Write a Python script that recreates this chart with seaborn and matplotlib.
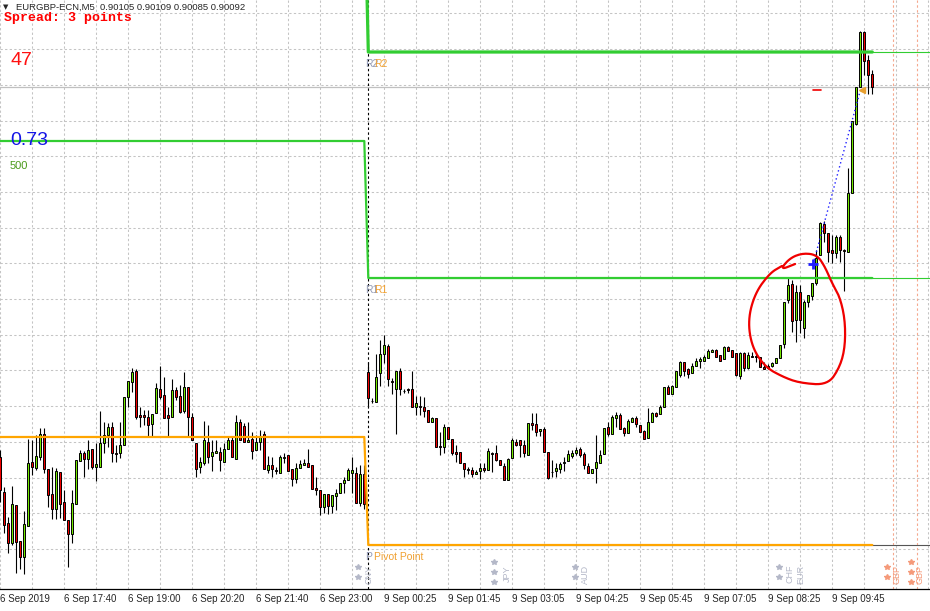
import numpy as np
import pandas as pd
import matplotlib
matplotlib.use("Agg")
import matplotlib.pyplot as plt
import seaborn as sns

# EURGBP-ECN M5 candles, 6 Sep 2019 16:20 .. 9 Sep 2019 10:35
# prices in points (1 point = 0.00001)
opens = [89722, 89687, 89656, 89636, 89674, 89638, 89622, 89653, 89717, 89711,
         89722, 89745, 89710, 89685, 89670, 89707, 89677, 89659, 89645, 89675,
         89718, 89726, 89720, 89730, 89712, 89712, 89736, 89744, 89752, 89726,
         89726, 89734, 89782, 89797, 89808, 89764, 89764, 89762, 89755, 89766,
         89790, 89784, 89764, 89762, 89789, 89783, 89768, 89792, 89762, 89736,
         89712, 89716, 89737, 89723, 89726, 89727, 89717, 89730, 89739, 89720,
         89757, 89753, 89737, 89740, 89729, 89737, 89745, 89709, 89714, 89709,
         89706, 89721, 89724, 89710, 89700, 89711, 89714, 89716, 89714, 89691,
         89689, 89672, 89685, 89673, 89683, 89686, 89696, 89699, 89706, 89706,
         89676, 89705,
         89807, 89778, 89777, 89806, 89825, 89833, 89798, 89790, 89808, 89788,
         89790, 89790, 89772, 89773, 89772, 89769, 89757, 89761, 89733, 89732,
         89752, 89740, 89727, 89727, 89716, 89710, 89709, 89705, 89708, 89711,
         89709, 89726, 89726, 89719, 89713, 89699, 89721, 89737, 89739, 89734,
         89724, 89756, 89755, 89748, 89750, 89727, 89707, 89708, 89710, 89716,
         89718, 89723, 89726, 89730, 89725, 89713, 89706, 89711, 89716, 89725,
         89752, 89745, 89761, 89764, 89751, 89746, 89757, 89761, 89754, 89748,
         89741, 89757, 89766, 89765, 89772, 89792, 89785, 89792, 89804, 89817,
         89810, 89806, 89813, 89818, 89818, 89821, 89827, 89829, 89824, 89820,
         89832, 89829, 89826, 89803, 89826, 89811, 89823, 89823, 89822, 89812,
         89811, 89813, 89816, 89821, 89835, 89879, 89895, 89859, 89887, 89851,
         89877, 89883, 89896, 89924, 89955, 89946, 89929, 89926, 89942, 89929,
         89927, 89986, 90055, 90092, 90147, 90119, 90105]
highs = [89729, 89692, 89662, 89693, 89674, 89638, 89668, 89740, 89739, 89744,
         89751, 89751, 89710, 89712, 89711, 89707, 89689, 89659, 89689, 89719,
         89729, 89728, 89739, 89730, 89736, 89768, 89757, 89756, 89757, 89734,
         89757, 89782, 89798, 89811, 89810, 89772, 89769, 89769, 89765, 89796,
         89813, 89802, 89772, 89800, 89792, 89794, 89807, 89792, 89766, 89736,
         89722, 89758, 89754, 89739, 89739, 89732, 89736, 89742, 89743, 89764,
         89760, 89756, 89757, 89747, 89744, 89749, 89748, 89723, 89722, 89712,
         89724, 89726, 89724, 89710, 89716, 89719, 89720, 89730, 89714, 89702,
         89689, 89685, 89685, 89684, 89690, 89696, 89702, 89711, 89722, 89712,
         89714, 89714,
         89817, 89781, 89825, 89839, 89844, 89835, 89801, 89808, 89811, 89790,
         89791, 89808, 89783, 89783, 89782, 89769, 89762, 89761, 89747, 89755,
         89752, 89740, 89734, 89727, 89716, 89712, 89712, 89709, 89716, 89716,
         89731, 89727, 89734, 89719, 89716, 89721, 89741, 89740, 89739, 89739,
         89756, 89766, 89766, 89750, 89752, 89727, 89719, 89716, 89717, 89722,
         89729, 89729, 89732, 89732, 89727, 89716, 89710, 89744, 89729, 89751,
         89757, 89764, 89767, 89766, 89752, 89760, 89762, 89763, 89754, 89749,
         89771, 89767, 89767, 89774, 89792, 89794, 89794, 89808, 89818, 89817,
         89811, 89816, 89821, 89822, 89824, 89830, 89830, 89830, 89824, 89833,
         89833, 89829, 89826, 89827, 89827, 89827, 89827, 89827, 89822, 89817,
         89815, 89817, 89821, 89834, 89877, 89901, 89899, 89894, 89894, 89879,
         89884, 89896, 89929, 89957, 89958, 89946, 89944, 89944, 89944, 89930,
         90011, 90058, 90092, 90148, 90148, 90124, 90109]
lows = [89677, 89646, 89626, 89634, 89606, 89610, 89605, 89653, 89704, 89709,
        89719, 89706, 89672, 89660, 89660, 89661, 89659, 89612, 89636, 89675,
        89718, 89702, 89710, 89710, 89698, 89712, 89726, 89732, 89717, 89717,
        89721, 89734, 89772, 89787, 89760, 89752, 89754, 89743, 89743, 89766,
        89780, 89761, 89743, 89762, 89779, 89766, 89766, 89743, 89739, 89702,
        89706, 89714, 89716, 89708, 89726, 89708, 89717, 89730, 89722, 89720,
        89739, 89737, 89737, 89720, 89729, 89729, 89710, 89706, 89702, 89705,
        89706, 89716, 89708, 89693, 89696, 89711, 89714, 89712, 89690, 89684,
        89664, 89666, 89665, 89666, 89669, 89686, 89686, 89699, 89686, 89676,
        89673, 89670,
        89773, 89776, 89777, 89793, 89816, 89793, 89785, 89745, 89784, 89786,
        89786, 89772, 89764, 89764, 89762, 89757, 89757, 89732, 89724, 89726,
        89740, 89724, 89717, 89716, 89702, 89705, 89702, 89705, 89700, 89707,
        89709, 89707, 89718, 89714, 89699, 89699, 89721, 89733, 89722, 89722,
        89724, 89749, 89743, 89743, 89727, 89700, 89702, 89702, 89706, 89708,
        89718, 89721, 89724, 89722, 89710, 89706, 89706, 89696, 89716, 89725,
        89743, 89745, 89752, 89750, 89743, 89746, 89757, 89752, 89747, 89740,
        89741, 89757, 89762, 89765, 89772, 89785, 89785, 89792, 89802, 89803,
        89801, 89806, 89813, 89811, 89818, 89821, 89827, 89822, 89818, 89820,
        89828, 89822, 89803, 89800, 89808, 89810, 89822, 89817, 89812, 89810,
        89810, 89812, 89816, 89821, 89831, 89876, 89847, 89837, 89846, 89841,
        89872, 89879, 89894, 89924, 89937, 89917, 89916, 89921, 89917, 89888,
        89927, 89986, 90054, 90092, 90104, 90085, 90085]
closes = [89689, 89654, 89636, 89675, 89637, 89622, 89655, 89716, 89712, 89723,
          89745, 89710, 89684, 89670, 89708, 89675, 89659, 89645, 89676, 89719,
          89726, 89720, 89729, 89712, 89715, 89736, 89744, 89752, 89726, 89725,
          89734, 89782, 89798, 89807, 89762, 89762, 89762, 89754, 89765, 89791,
          89782, 89761, 89761, 89789, 89782, 89767, 89792, 89762, 89739, 89710,
          89717, 89739, 89722, 89727, 89728, 89719, 89730, 89739, 89722, 89757,
          89739, 89737, 89739, 89728, 89737, 89743, 89710, 89714, 89710, 89708,
          89722, 89722, 89708, 89700, 89711, 89715, 89716, 89712, 89690, 89689,
          89672, 89685, 89673, 89684, 89686, 89696, 89699, 89709, 89709, 89676,
          89705, 89675,
          89781, 89778, 89802, 89825, 89834, 89800, 89797, 89808, 89790, 89788,
          89789, 89772, 89776, 89772, 89768, 89757, 89761, 89732, 89732, 89752,
          89740, 89726, 89725, 89716, 89710, 89709, 89705, 89707, 89711, 89709,
          89728, 89725, 89719, 89714, 89699, 89720, 89739, 89734, 89734, 89726,
          89756, 89754, 89747, 89750, 89727, 89701, 89707, 89711, 89715, 89717,
          89725, 89726, 89729, 89724, 89714, 89706, 89710, 89717, 89724, 89751,
          89745, 89762, 89764, 89750, 89746, 89758, 89761, 89755, 89747, 89740,
          89757, 89766, 89763, 89772, 89792, 89785, 89793, 89808, 89817, 89808,
          89805, 89813, 89818, 89820, 89822, 89828, 89829, 89822, 89818, 89832,
          89828, 89822, 89804, 89826, 89811, 89824, 89822, 89822, 89812, 89810,
          89813, 89816, 89821, 89834, 89877, 89894, 89858, 89887, 89859, 89877,
          89884, 89896, 89921, 89956, 89946, 89927, 89926, 89942, 89929, 89928,
          89986, 90058, 90092, 90147, 90118, 90104, 90092]

sep6_count = 92  # bars of 6 Sep, the rest is 9 Sep

time_labels = ["6 Sep 2019", "6 Sep 17:40", "6 Sep 19:00", "6 Sep 20:20",
               "6 Sep 21:40", "6 Sep 23:00", "9 Sep 00:25", "9 Sep 01:45",
               "9 Sep 03:05", "9 Sep 04:25", "9 Sep 05:45", "9 Sep 07:05",
               "9 Sep 08:25", "9 Sep 09:45"]
label_bars = [0, 16, 32, 48, 64, 80, 96, 112, 128, 144, 160, 176, 192, 208]

# daily pivot levels: [6 Sep, 9 Sep]
pivot_levels = [0.89742, 0.89634]
r1_levels = [0.90038, 0.89901]
r2_levels = [0.90300, 0.90127]
bid = 0.90092

# hand drawn circle (bar, points)
circle_bars = [198.7, 194.9, 197.4, 200.7, 204.2, 206.2, 207.9, 209.9, 211.2, 211.2,
               209.9, 206.9, 199.9, 195.7, 191.2, 187.9, 186.9, 188.7, 192.4, 195.4]
circle_pts = [89915, 89909, 89921, 89926, 89924, 89912, 89896, 89882, 89859, 89832,
              89812, 89794, 89796, 89802, 89812, 89832, 89859, 89886, 89906, 89913]

# news events at the bottom: name, star bar, star count, text bar, colour
events = [("CNY", 89.4, 2, 92.2, "#b4b8c8"), ("JPY", 123.4, 3, 126.7, "#b4b8c8"),
          ("AUD", 143.7, 2, 146.4, "#b4b8c8"), ("CHF", 194.7, 2, 197.4, "#b4b8c8"),
          ("EUR", None, 0, 200.2, "#b4b8c8"), ("GBP", 221.7, 2, 224.2, "#f59a7a"),
          ("GBP", 227.7, 3, 229.9, "#f59a7a")]
future_lines = [223.1, 229.1]

df = pd.DataFrame({"open": opens, "high": highs, "low": lows, "close": closes}) / 1e5
df["bar"] = np.arange(len(df))
df["day"] = np.where(df["bar"] < sep6_count, 0, 1)
df["P"] = np.array(pivot_levels)[df["day"]]
df["R1"] = np.array(r1_levels)[df["day"]]
df["R2"] = np.array(r2_levels)[df["day"]]

sns.set_style("white")
plt.rcParams["font.family"] = ["Liberation Sans", "DejaVu Sans"]

fig = plt.figure(figsize=(9.3, 6.11), dpi=100)
ax = fig.add_axes([0, 22 / 611, 1, 589 / 611])

ymin, ymax = 0.89590, 0.90179
xmin, xmax = -0.075, 232.425

# grid
grid_col = "#c4c4c4"
for b in range(0, 240, 8):
    ax.axvline(b, color=grid_col, lw=0.75, dashes=(2.2, 2.2), zorder=0)
for lvl in np.arange(0.89630, 0.90180, 0.000357):
    ax.axhline(lvl, color=grid_col, lw=0.75, dashes=(2.2, 2.2), zorder=0)
ax.axhline(bid, color="#c0c0c0", lw=0.9, zorder=1)

# period separator
ax.axvline(sep6_count, color="black", lw=0.8, dashes=(2.2, 2.2), zorder=2)
for fx in future_lines:
    ax.axvline(fx, color="#f5a88e", lw=0.8, dashes=(2.2, 2.2), zorder=1)

# candles
up = df["close"] >= df["open"]
ax.vlines(df["bar"], df["low"], df["high"], color="black", lw=0.8, zorder=3)
ax.bar(df["bar"], df["close"] - df["open"], bottom=df["open"], width=0.5,
       color=np.where(up, "#74e800", "#f00000"), edgecolor="black", lw=0.7, zorder=4)

# pivot lines
nine = df[df["day"] == 1]
ax.hlines([nine["R2"].iloc[0], nine["R1"].iloc[0]], sep6_count, xmax, color="#32cd32", lw=0.8, zorder=4)
ax.hlines(nine["P"].iloc[0], sep6_count, xmax, color="#555555", lw=0.8, zorder=4)
sns.lineplot(data=df, x="bar", y="R2", color="#32cd32", lw=2.3, ax=ax, zorder=5)
sns.lineplot(data=df, x="bar", y="R1", color="#32cd32", lw=1.6, ax=ax, zorder=5)
sns.lineplot(data=df, x="bar", y="P", color="#ffa500", lw=1.6, ax=ax, zorder=5)

for lvl, name in [(r2_levels[1], "R2"), (r1_levels[1], "R1"), (pivot_levels[1], "P")]:
    ax.text(91.2, lvl - 0.00015, name, color="#9098b4", fontsize=7.5, va="baseline", zorder=6)
for lvl, name in [(r2_levels[1], "R2"), (r1_levels[1], "R1"), (pivot_levels[1], "Pivot Point")]:
    ax.text(93.4, lvl - 0.00015, name, color="#f0a030", fontsize=7.5, va="baseline", zorder=6)

# drawings
ax.plot([203.2, 205.2], [0.90089, 0.90089], color="#f00000", lw=1.2, zorder=6)
ax.plot(215.4, 0.90089, marker="<", ms=4, color="#e8a030", zorder=6)
ax.plot([203.2, 214.9], [0.89915, 0.90087], color="#1e1eff", lw=1.0, dashes=(1, 2), zorder=6)
ax.plot(203.2, 0.89915, marker="+", ms=7, mew=2, color="#1e1eff", zorder=7)

pts = np.column_stack([circle_bars, np.array(circle_pts) / 1e5])
for _ in range(3):
    q = 0.75 * pts[:-1] + 0.25 * pts[1:]
    r = 0.25 * pts[:-1] + 0.75 * pts[1:]
    pts = np.vstack([pts[:1], np.column_stack([q, r]).reshape(-1, 2), pts[-1:]])
ax.plot(pts[:, 0], pts[:, 1], color="#f00000", lw=1.6, zorder=7)

# news markers
for name, sb, n, tb, col in events:
    if sb is not None:
        ys = [0.89612, 0.89602] if n == 2 else [0.89617, 0.89607, 0.89597]
        ax.plot([sb] * n, ys, ls="none", marker="*", ms=4, color=col, zorder=6)
    ax.text(tb, 0.89605, name, rotation=90, color=col, fontsize=6.5,
            ha="center", va="center", zorder=6)

ax.set_xlim(xmin, xmax)
ax.set_ylim(ymin, ymax)
ax.set_xlabel("")
ax.set_ylabel("")
ax.set_yticks([])
ax.set_xticks(label_bars)
ax.set_xticklabels(time_labels, ha="left", fontsize=7)
ax.tick_params(axis="x", length=2, pad=1.5, color="black")
for s in ["top", "left", "right"]:
    ax.spines[s].set_visible(False)
ax.spines["bottom"].set_color("black")
ax.spines["bottom"].set_linewidth(0.9)

# header texts (pixel positions)
def fpos(x, y):
    return x / 930, 1 - y / 611

fig.text(*fpos(3, 9.5), "\u25bc", fontsize=5, family=["DejaVu Sans"], va="baseline")
fig.text(*fpos(16, 9.5), "EURGBP-ECN,M5  0.90105 0.90109 0.90085 0.90092",
         fontsize=6.8, va="baseline")
fig.text(*fpos(4, 21), "Spread: 3 points", fontsize=9.5, color="#ff0000",
         family=["Liberation Mono", "DejaVu Sans Mono"], weight="bold", va="baseline")
fig.text(*fpos(10, 65), "47", fontsize=14, color="#ff1010", va="baseline")
fig.text(*fpos(10, 145), "0.73", fontsize=14, color="#1414e6", va="baseline")
fig.text(*fpos(10, 169), "500", fontsize=8, color="#4a9a1a", va="baseline")

fig.savefig("out.png", dpi=100)
